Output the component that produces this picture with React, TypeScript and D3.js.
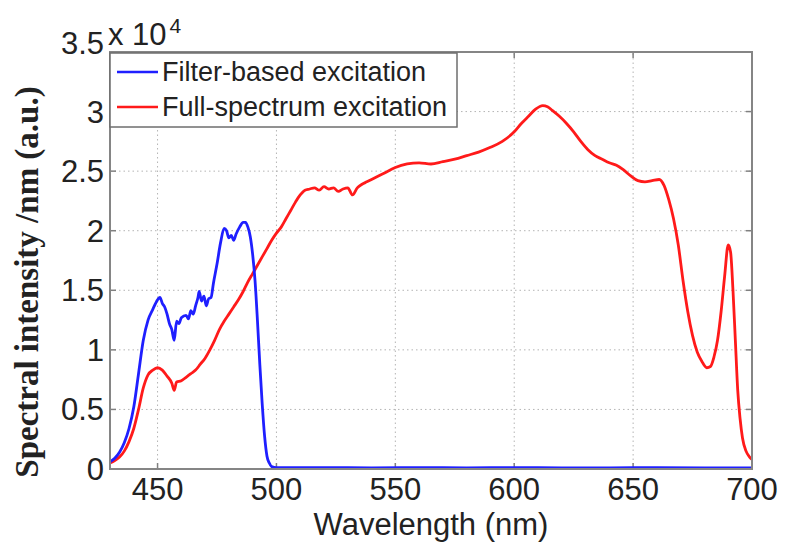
import { useEffect, useRef } from "react"
import * as d3 from "d3"

// axis ticks
const xTicks = [450, 500, 550, 600, 650, 700]
const yTicks = [0, 0.5, 1, 1.5, 2, 2.5, 3, 3.5]
const yTickLabels = ["0", "0.5", "1", "1.5", "2", "2.5", "3", "3.5"]

const seriesNames = ["Filter-based excitation", "Full-spectrum excitation"]
const seriesColors = ["#1f1fff", "#ff1a1a"]

// values in units of 10^4
const filterWl = [
  430, 432, 434, 436, 438, 440, 442, 444, 446, 448, 450, 451, 452, 453, 454, 455, 456, 457, 458, 459,
  460, 462, 463, 464, 465, 466, 467, 467.5, 468.5, 469.5, 470.5, 471.5, 472.5, 473.5, 475, 476.5, 478,
  479, 480, 481, 482, 483, 484.5, 486, 487, 488, 489, 490, 491, 492, 493, 494, 495, 496, 497, 498, 500,
  520, 540, 560, 580, 600, 620, 640, 660, 680, 700,
]
const filterVal = [
  0.06, 0.09, 0.14, 0.22, 0.34, 0.52, 0.8, 1.08, 1.25, 1.34, 1.42, 1.44, 1.39, 1.36, 1.3, 1.22, 1.17, 1.08, 1.24, 1.22,
  1.27, 1.29, 1.26, 1.33, 1.3, 1.37, 1.44, 1.49, 1.41, 1.45, 1.37, 1.43, 1.44, 1.56, 1.72, 1.9, 2.02,
  2.0, 1.94, 1.96, 1.92, 1.97, 2.03, 2.07, 2.07, 2.03, 1.95, 1.8, 1.58, 1.25, 0.88, 0.55, 0.28, 0.11, 0.05, 0.02, 0.012,
  0.012, 0.01, 0.012, 0.01, 0.011, 0.01, 0.01, 0.011, 0.01, 0.01,
]

const fullWl = [
  430, 432, 434, 436, 438, 440, 442, 444, 446, 448, 450, 452, 454, 456, 457, 458, 460, 462, 464, 466,
  468, 470, 472, 474, 476, 478, 480, 482, 484, 486, 488, 490, 492, 494, 496, 498, 500, 502, 504, 506,
  508, 510, 512, 514, 516, 518, 520, 522, 524, 526, 528, 530, 532, 534, 536, 538, 540, 545, 550, 555,
  560, 565, 570, 575, 580, 585, 590, 595, 600, 603, 606, 609, 612, 614, 616, 619, 622, 625, 628, 631,
  634, 637, 640, 643, 646, 649, 652, 655, 658, 661, 663, 665, 667, 669, 671, 673, 675, 677, 679, 681,
  682.5, 684, 685.5, 687, 688.5, 690, 691, 692, 693, 694, 695, 696, 697.5, 699, 700,
]
const fullVal = [
  0.05, 0.07, 0.1, 0.15, 0.23, 0.34, 0.5, 0.68, 0.79, 0.83, 0.85, 0.83, 0.78, 0.72, 0.66, 0.73, 0.74, 0.77, 0.8, 0.83,
  0.88, 0.93, 1.0, 1.08, 1.17, 1.24, 1.3, 1.36, 1.42, 1.49, 1.57, 1.64, 1.71, 1.78, 1.85, 1.92, 1.98, 2.03, 2.1, 2.17,
  2.24, 2.3, 2.34, 2.35, 2.36, 2.34, 2.37, 2.35, 2.36, 2.33, 2.35, 2.36, 2.3, 2.36, 2.39, 2.41, 2.43, 2.48, 2.53, 2.56,
  2.57, 2.56, 2.58, 2.6, 2.63, 2.66, 2.7, 2.75, 2.83, 2.9, 2.96, 3.02, 3.05, 3.04, 3.01, 2.96, 2.9, 2.83, 2.75, 2.68,
  2.63, 2.6, 2.57, 2.55, 2.51, 2.46, 2.42, 2.41, 2.42, 2.43, 2.38, 2.26, 2.1, 1.88, 1.58, 1.32, 1.12, 0.98, 0.9, 0.85,
  0.86, 0.94, 1.08, 1.32, 1.62, 1.88, 1.82, 1.5, 1.08, 0.66, 0.42, 0.26, 0.15, 0.1, 0.08,
]

export default function App() {
  const svgRef = useRef<SVGSVGElement>(null)

  useEffect(() => {
    const svg = d3.select(svgRef.current)
    const width = 786
    const height = 546
    const margin = { top: 52, right: 34, bottom: 77, left: 110 }
    const font = "'Liberation Sans', Arial, sans-serif"

    svg.selectAll("*").remove()
    svg.attr("width", width).attr("height", height)

    const x = d3.scaleLinear().domain([430, 700]).range([margin.left, width - margin.right])
    const y = d3.scaleLinear().domain([0, 3.5]).range([height - margin.bottom, margin.top])
    const [x0, x1] = x.range()
    const [y0, y1] = y.range()

    svg.append("rect").attr("width", width).attr("height", height).attr("fill", "#fff")

    // dotted grid
    const grid = svg.append("g").attr("stroke", "#b4b4b4").attr("stroke-width", 1).attr("stroke-dasharray", "1.5,3")
    grid.selectAll(".gx").data(xTicks).join("line")
      .attr("x1", d => x(d)).attr("x2", d => x(d)).attr("y1", y0).attr("y2", y1)
    grid.selectAll(".gy").data(yTicks).join("line")
      .attr("y1", d => y(d)).attr("y2", d => y(d)).attr("x1", x0).attr("x2", x1)

    // inward ticks on all four sides
    const ticks = svg.append("g").attr("stroke", "#808080").attr("stroke-width", 1.5)
    xTicks.forEach(t => {
      ticks.append("line").attr("x1", x(t)).attr("x2", x(t)).attr("y1", y0).attr("y2", y0 - 6)
      ticks.append("line").attr("x1", x(t)).attr("x2", x(t)).attr("y1", y1).attr("y2", y1 + 6)
    })
    yTicks.forEach(t => {
      ticks.append("line").attr("y1", y(t)).attr("y2", y(t)).attr("x1", x0).attr("x2", x0 + 6)
      ticks.append("line").attr("y1", y(t)).attr("y2", y(t)).attr("x1", x1).attr("x2", x1 - 6)
    })

    // series
    const line = d3.line<[number, number]>()
      .x(d => x(d[0]))
      .y(d => y(d[1]))
      .curve(d3.curveMonotoneX)

    const filterData = filterWl.map((w, i) => [w, filterVal[i]] as [number, number])
    const fullData = fullWl.map((w, i) => [w, fullVal[i]] as [number, number])

    svg.append("path").datum(fullData)
      .attr("fill", "none").attr("stroke", seriesColors[1]).attr("stroke-width", 2.8)
      .attr("stroke-linejoin", "round").attr("d", line)
    svg.append("path").datum(filterData)
      .attr("fill", "none").attr("stroke", seriesColors[0]).attr("stroke-width", 2.8)
      .attr("stroke-linejoin", "round").attr("d", line)

    // axes box
    svg.append("rect")
      .attr("x", x0).attr("y", y1).attr("width", x1 - x0).attr("height", y0 - y1)
      .attr("fill", "none").attr("stroke", "#858585").attr("stroke-width", 2)

    // tick labels
    svg.selectAll(".xl").data(xTicks).join("text")
      .attr("x", d => x(d)).attr("y", y0 + 31)
      .attr("text-anchor", "middle").attr("font-family", font).attr("font-size", 31).attr("fill", "#222")
      .text(d => String(d))

    svg.selectAll(".yl").data(yTicks).join("text")
      .attr("x", x0 - 6).attr("y", (d, i) => y(d) + 11 - (i === yTicks.length - 1 ? 9 : 0))
      .attr("text-anchor", "end").attr("font-family", font).attr("font-size", 31).attr("fill", "#222")
      .text((d, i) => yTickLabels[i])

    // exponent
    const exp = svg.append("text").attr("x", 108).attr("y", 45)
      .attr("font-family", font).attr("font-size", 31).attr("fill", "#222")
    exp.append("tspan").text("x 10")
    exp.append("tspan").attr("font-size", 21).attr("dy", -12).attr("dx", 3).text("4")

    // axis titles
    svg.append("text")
      .attr("x", (x0 + x1) / 2).attr("y", 535)
      .attr("text-anchor", "middle").attr("font-family", font).attr("font-size", 31).attr("fill", "#222")
      .text("Wavelength (nm)")

    svg.append("text")
      .attr("transform", `translate(38,${282}) rotate(-90)`)
      .attr("text-anchor", "middle").attr("font-family", "'Liberation Serif', 'Times New Roman', serif")
      .attr("font-weight", "bold").attr("font-size", 33).attr("fill", "#222")
      .text("Spectral intensity /nm (a.u.)")

    // legend
    const lg = svg.append("g")
    lg.append("rect").attr("x", 110).attr("y", 53).attr("width", 347).attr("height", 74)
      .attr("fill", "#fff").attr("stroke", "#6e6e6e").attr("stroke-width", 1.5)
    seriesNames.forEach((name, i) => {
      const cy = 72 + i * 35
      lg.append("line").attr("x1", 117).attr("x2", 158).attr("y1", cy).attr("y2", cy)
        .attr("stroke", seriesColors[i]).attr("stroke-width", 2.5)
      lg.append("text").attr("x", 162).attr("y", cy + 9)
        .attr("font-family", font).attr("font-size", 27).attr("fill", "#222")
        .text(name)
    })
  }, [])

  return (
    <div style={{ position: "absolute", left: 0, top: 0 }}>
      <svg ref={svgRef} style={{ display: "block" }} />
    </div>
  )
}
